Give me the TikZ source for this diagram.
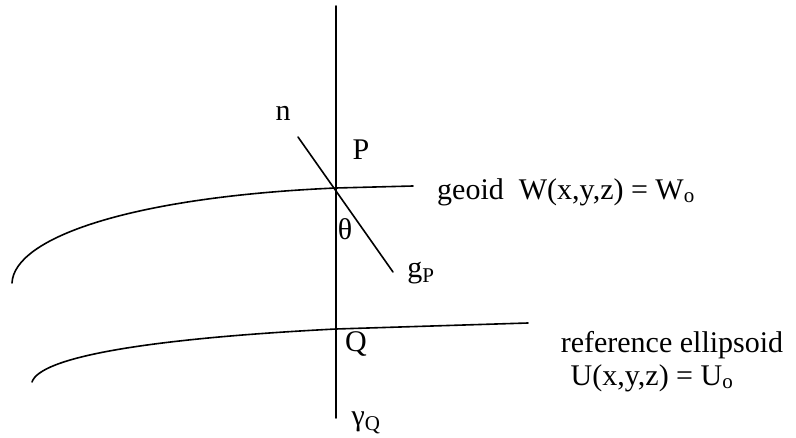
\documentclass[tikz,border=0pt]{standalone}
\usepackage{fontspec}
\setmainfont{Liberation Serif}
\tikzset{
  curve/.style={
    line width=1.6pt,
    line cap=round,
    line join=round,
    draw=black
  },
  lbl/.style={inner sep=0pt, font=\fontsize{30}{36}\selectfont}
}

\begin{document}
\begin{tikzpicture}[x=1pt,y=-1pt]
  \useasboundingbox (0,0) rectangle (796,438);
  % Define coordinates
  \coordinate (top) at (336,6);
  \coordinate (bot) at (336,418);
  \coordinate (P0) at (336,188);
  \coordinate (Q0) at (336,329);
  \coordinate (nend) at (298,137);
  \coordinate (gend) at (393,272);
  \coordinate (geoL) at (12,283);
  \coordinate (geoR) at (413,186);
  \coordinate (ellL) at (32,382);
  \coordinate (ellR) at (528,323);
  % Draw surfaces
  \draw[curve] (geoL) .. controls (14,238) and (130,197) .. (P0) -- (geoR);
  \draw[curve] (ellL) .. controls (40,358) and (140,339) .. (Q0) -- (ellR);
  % Draw plumb line and normal
  \draw[curve] (top) -- (bot);
  \draw[curve] (nend) -- (gend);
  % Labels
  \node[lbl] (n) at (283,113) {n};
  \node[lbl] (P) at (361,150) {P};
  \node[lbl] (theta) at (345,229) {θ};
  \node[lbl] (gP) at (421,273) {g\textsubscript{P}};
  \node[lbl] (Q) at (356,344) {Q};
  \node[lbl] (gQ) at (366,423) {γ\textsubscript{Q}};
  \node[lbl, anchor=west] (geoid) at (437,192) {geoid\ \ W(x,y,z) = W\textsubscript{o}};
  \node[lbl] (ell) at (672,345) {reference ellipsoid};
  \node[lbl] (ellU) at (652,378) {U(x,y,z) = U\textsubscript{o}};
\end{tikzpicture}
\end{document}
